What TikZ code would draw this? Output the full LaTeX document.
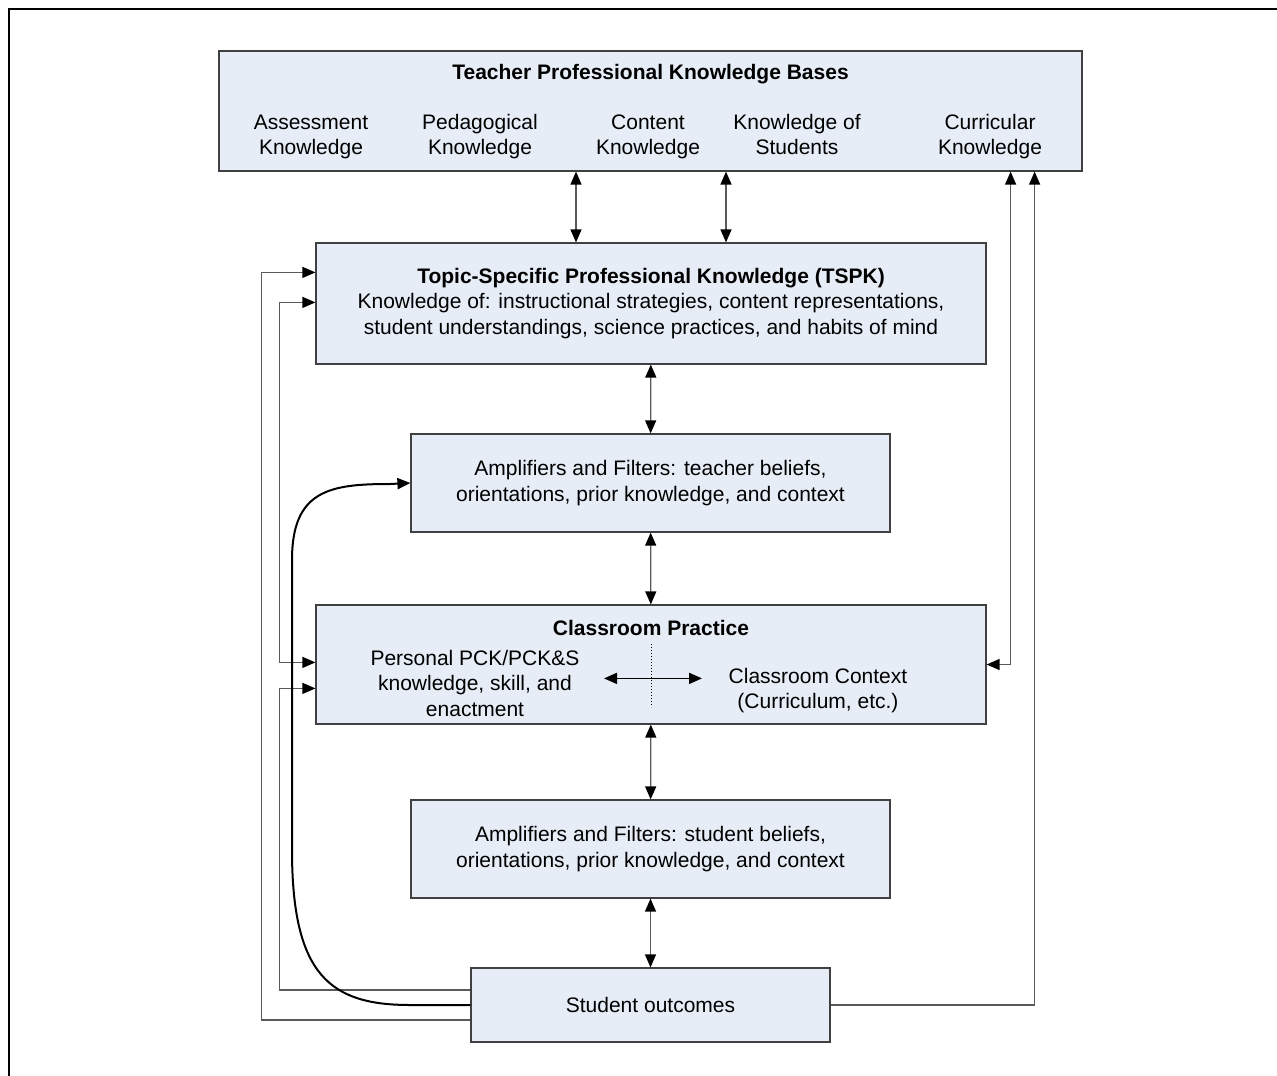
\documentclass[tikz,border=0pt]{standalone}
\usepackage{fontspec}
\setmainfont{Liberation Sans}
\usetikzlibrary{positioning, arrows.meta, calc}
\definecolor{boxblue}{HTML}{E6EDF7}
\definecolor{linegray}{HTML}{5A5A5A}

\begin{document}
\begin{tikzpicture}[
                x=1pt, y=-1pt,
                >={Triangle[length=13pt, width=11pt, color=black]},
                kbox/.style={draw=black!75, fill=boxblue, rectangle, inner sep=0pt, line width=1.2pt},
                ktext/.style={align=center, inner sep=0pt, text=black, font=\fontsize{21}{25.5}\selectfont},
                ktitle/.style={ktext, font=\fontsize{21}{25.5}\selectfont\bfseries},
                link/.style={draw=linegray, line width=1.3pt},
            ]
                \useasboundingbox (0,0) rectangle (1277,1076);
                % frame of the figure
                \draw[line width=1.5pt] (9,1076) -- (9,9) -- (1277,9);

                % Draw the knowledge bases box
                \node[kbox, minimum width=863pt, minimum height=120pt] (kb) at (650.5,111) {};
                \node[ktitle] (kb-title) at (650.5,74) {Teacher Professional Knowledge Bases};
                \foreach \name / \x / \y / \txt in {assess/311/137/Assessment\\Knowledge, pedag/480/136.5/Pedagogical\\Knowledge,
                        content/648/137/Content\\Knowledge, students/797/134.5/Knowledge of\\Students, curric/990/136.5/Curricular\\Knowledge}
                    \node[ktext] (kb-\name) at (\x,\y) {\txt};

                % Draw the boxes of the central column
                \node[kbox, ktext, minimum width=670pt, minimum height=121pt] (tspk) at (651,303.5)
                    {\textbf{Topic-Specific Professional Knowledge (TSPK)}\\Knowledge of: instructional strategies, content representations,\\student understandings, science practices, and habits of mind};
                \node[kbox, ktext, minimum width=479pt, minimum height=98pt] (amp-t) at (650.5,483)
                    {Amplifiers and Filters: teacher beliefs,\\orientations, prior knowledge, and context};
                \node[kbox, minimum width=670pt, minimum height=119pt] (cp) at (651,664.5) {};
                \node[ktitle] (cp-title) at (651,628) {Classroom Practice};
                \node[ktext] (cp-pck) at (475,683) {Personal PCK/PCK\&S\\knowledge, skill, and\\enactment};
                \node[ktext] (cp-ctx) at (818,690.5) {Classroom Context\\(Curriculum, etc.)};
                \node[kbox, ktext, minimum width=479pt, minimum height=98pt] (amp-s) at (650.5,849)
                    {Amplifiers and Filters: student beliefs,\\orientations, prior knowledge, and context};
                \node[kbox, ktext, minimum width=359pt, minimum height=74pt] (so) at (650.5,1005) {Student outcomes};

                % Connect the knowledge bases with the TSPK
                \foreach \dx in {-75,75}
                    \draw[link, <->] ([xshift=\dx pt]tspk.north) -- ([xshift=\dx pt]tspk.north |- kb.south);

                % Connect the central column
                \draw[link, <->] (tspk) -- (amp-t);
                \draw[link, <->] (amp-t) -- (cp);
                \draw[link, <->] (cp) -- (amp-s);
                \draw[link, <->] (amp-s) -- (so);

                % inside the classroom practice
                \draw[dotted, line width=1pt] ($(cp.north)+(0,40)$) -- ($(cp.north)+(0,103)$);
                \draw[<->, line width=1.8pt] ($(cp.north)+(-47,74)$) -- ($(cp.north)+(51,74)$);

                % Feedback loops on the left
                \draw[link, ->] ([yshift=-15pt]so.west) -| ([xshift=-54pt, yshift=-30pt]tspk.north west) -- ([yshift=-30pt]tspk.north west);
                \draw[link, <->] ([yshift=-58pt]cp.north west) -- ++(-36,0) |- ([yshift=-60pt]tspk.north west);
                \draw[link, ->] ([yshift=15pt]so.west) -| ([xshift=-36pt, yshift=-84pt]cp.north west) -- ([yshift=-84pt]cp.north west);
                \draw[->, line width=2pt] (so.west) -- (410,1005) .. controls (330,1005) and (292,975) .. (292,850)
                    -- (292,560) .. controls (292,490) and (330,484) .. (390,484) -- (amp-t.west);

                % Feedback loops on the right
                \draw[link, ->] (so.east) -| ([xshift=-48pt]kb.south east);
                \draw[link, <->] (cp.east) -| ([xshift=-72pt]kb.south east);
            \end{tikzpicture}
\end{document}
